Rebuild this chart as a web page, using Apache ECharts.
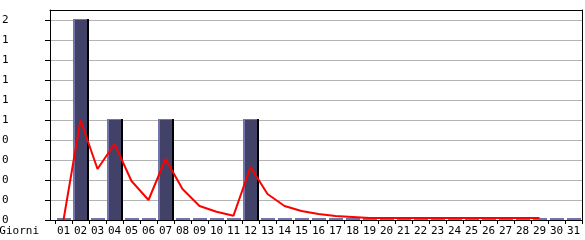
<!DOCTYPE html>
<html>
<head>
<meta charset="utf-8">
<script src="https://cdn.jsdelivr.net/npm/echarts@6/dist/echarts.min.js"></script>
<style>html,body{margin:0;padding:0;background:#fff}#c{width:585px;height:240px}</style>
</head>
<body>
<div id="c"></div>
<script>
const days = ['01','02','03','04','05','06','07','08','09','10','11','12','13','14','15','16','17','18','19','20','21','22','23','24','25','26','27','28','29','30','31'];
const barValues = [0,2,0,1,0,0,1,0,0,0,0,1,0,0,0,0,0,0,0,0,0,0,0,0,0,0,0,0,0,0,0];
const trendValues = [0,1.0,0.51,0.76,0.39,0.2,0.61,0.31,0.14,0.083,0.043,0.53,0.26,0.14,0.09,0.06,0.04,0.03,0.02,0.02,0.02,0.02,0.02,0.02,0.02,0.02,0.02,0.02,0.02,null,null];
const yTickLabels = ['0','0','0','0','0','1','1','1','1','1','2'];
const xName = 'Giorni';

const FONT = 'DejaVu Sans Mono';
const LIGHT = '#7474ac', DARK = '#424268';

const chart = echarts.init(document.getElementById('c'), null, {renderer:'canvas'});
chart.setOption({
  animation: false,
  grid: [
    {left: 50, right: 3, top: 10, bottom: 20, containLabel:false, outerBoundsMode:'none'},
    {left: 55, right: 3, top: 10, bottom: 20, containLabel:false, outerBoundsMode:'none'}
  ],
  xAxis: [
    {gridIndex:0, type:'value', min:0, max:1, position:'bottom',
     axisLine:{show:true, onZero:false, lineStyle:{color:'#000', width:1}},
     axisTick:{show:false}, axisLabel:{show:false}, splitLine:{show:false}},
    {gridIndex:0, type:'value', min:0, max:1, position:'top',
     axisLine:{show:true, onZero:false, lineStyle:{color:'#000', width:1}},
     axisTick:{show:false}, axisLabel:{show:false}, splitLine:{show:false}},
    {gridIndex:1, type:'category', data: days, boundaryGap:true, position:'bottom',
     name: xName, nameLocation:'start', nameGap: 16,
     nameTextStyle:{fontFamily:FONT, fontSize:11, color:'#000', verticalAlign:'top', align:'right', padding:[6,0,0,0]},
     axisLine:{show:false, onZero:false},
     axisTick:{show:true, alignWithLabel:false, length:4, lineStyle:{color:'#000'}},
     axisLabel:{fontFamily:FONT, fontSize:11, color:'#000', margin:6, interval:0},
     splitLine:{show:false}}
  ],
  yAxis: [
    {gridIndex:0, type:'value', min:0, max:2.1, interval:0.2, position:'left',
     axisLine:{show:true, onZero:false, lineStyle:{color:'#000', width:1}},
     axisTick:{show:true, length:5, lineStyle:{color:'#000'}},
     axisLabel:{fontFamily:FONT, fontSize:11, color:'#000', align:'left', margin:48, showMaxLabel:false,
       formatter: v => { const i = Math.round(v/0.2); return (Math.abs(v - i*0.2) < 1e-6) ? (yTickLabels[i] ?? '') : ''; }},
     splitLine:{show:true, lineStyle:{color:'#b4b4b4', width:1}}},
    {gridIndex:0, type:'value', min:0, max:2.1, position:'right',
     axisLine:{show:true, onZero:false, lineStyle:{color:'#000', width:1}},
     axisTick:{show:false}, axisLabel:{show:false}, splitLine:{show:false}},
    {gridIndex:1, type:'value', min:0, max:2.1, show:false}
  ],
  series: [
    {
      type:'custom', xAxisIndex:2, yAxisIndex:2, z:3,
      data: barValues.map((v,i)=>[i,v]),
      renderItem: function(params, api){
        const v = api.value(1);
        const base = api.coord([api.value(0), 0]);
        const top = api.coord([api.value(0), v]);
        const bw = api.size([1,0])[0];
        const w = Math.round(bw - 1);
        const x0 = Math.round(base[0] - w/2);
        const yb = Math.round(base[1]);
        const y0 = Math.round(top[1]) - 1;
        if (v <= 0) {
          return {type:'rect', shape:{x:x0+1, y:yb-2, width:w-2, height:2}, style:{fill:LIGHT}};
        }
        return {type:'group', children:[
          {type:'rect', shape:{x:x0, y:y0, width:w, height:yb-y0}, style:{fill:LIGHT}},
          {type:'rect', shape:{x:x0+2, y:y0+1, width:w-4, height:yb-y0-1}, style:{fill:DARK}},
          {type:'rect', shape:{x:x0+w-2, y:y0, width:2, height:yb-y0}, style:{fill:'#000'}}
        ]};
      }
    },
    {
      type:'line', xAxisIndex:2, yAxisIndex:2, z:5,
      data: trendValues, showSymbol:false, symbol:'none', connectNulls:false,
      lineStyle:{color:'#ff0000', width:2}, itemStyle:{color:'#ff0000'}
    }
  ]
});
</script>
</body>
</html>
